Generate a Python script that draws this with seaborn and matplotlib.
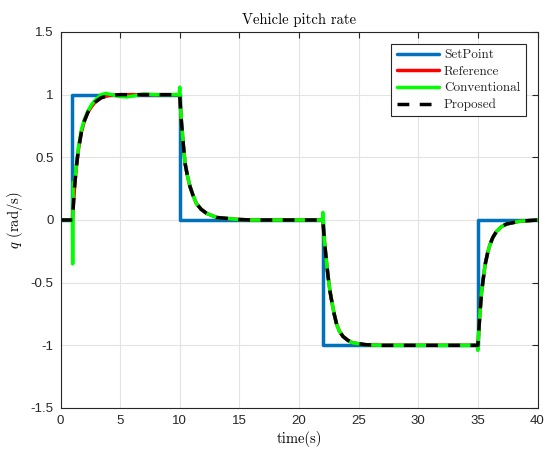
import matplotlib
matplotlib.use("Agg")
import matplotlib.pyplot as plt
import seaborn as sns

# setpoint (step changes)
t_set = [0, 1, 10, 22, 35, 40]
q_set = [0, 1, 0, -1, 0, 0]

# reference model response
t_ref = [0, 1, 1.1, 1.2, 1.35, 1.5, 1.75, 2.0, 2.3, 2.6, 2.9, 3.4, 4.0, 5.0, 10,
         10.07, 10.15, 10.3, 10.45, 10.65, 10.85, 11.1, 11.4, 11.8, 12.25, 13.1, 14.8, 16, 22,
         22.08, 22.15, 22.3, 22.45, 22.6, 22.75, 22.95, 23.15, 23.4, 23.7, 24.1, 24.5, 25.6, 27, 35,
         35.05, 35.1, 35.2, 35.3, 35.45, 35.6, 35.8, 36.0, 36.25, 36.55, 36.95, 37.4, 38.5, 40]
q_ref = [0, 0, 0.15, 0.29, 0.44, 0.56, 0.7, 0.79, 0.86, 0.905, 0.94, 0.975, 0.993, 1.0, 1.0,
         0.88, 0.77, 0.6, 0.45, 0.35, 0.27, 0.2, 0.13, 0.085, 0.053, 0.02, 0.005, 0, 0,
         -0.1, -0.186, -0.33, -0.46, -0.57, -0.65, -0.75, -0.83, -0.89, -0.93, -0.96, -0.98, -0.995, -1, -1,
         -0.93, -0.85, -0.71, -0.585, -0.47, -0.36, -0.27, -0.2, -0.14, -0.093, -0.055, -0.032, -0.01, 0]

# conventional controller: spikes at the steps and a small ripple
t_conv = [0, 1.0, 1.02, 1.06, 1.2, 1.35, 1.5, 1.75, 2.0, 2.3, 2.6, 2.9, 3.4, 3.8, 4.3, 5.0, 5.6,
          6.2, 7.0, 7.8, 9.95, 10.0, 10.07, 10.15, 10.3, 10.45, 10.65, 10.85, 11.1, 11.4, 11.8,
          12.25, 13.1, 14.8, 16, 21.97, 22.0, 22.08, 22.15, 22.3, 22.45, 22.6, 22.75, 22.95, 23.15,
          23.4, 23.7, 24.1, 24.5, 25.6, 27, 34.97, 35.0, 35.05, 35.1, 35.2, 35.3, 35.45, 35.6,
          35.8, 36.0, 36.25, 36.55, 36.95, 37.4, 38.5, 40]
q_conv = [0, 0, -0.35, 0.3, 0.31, 0.45, 0.58, 0.72, 0.8, 0.87, 0.92, 0.955, 1.0, 1.01, 1.0,
          0.985, 0.982, 0.992, 1.006, 1.0, 1.0, 1.06, 0.9, 0.77, 0.6, 0.45, 0.35, 0.27, 0.2,
          0.13, 0.085, 0.053, 0.02, 0.005, 0, 0, 0.06, -0.1, -0.186, -0.33, -0.46, -0.57, -0.65,
          -0.75, -0.83, -0.89, -0.93, -0.96, -0.98, -0.995, -1, -1, -1.04, -0.93, -0.85, -0.71,
          -0.585, -0.47, -0.36, -0.27, -0.2, -0.14, -0.093, -0.055, -0.032, -0.01, 0]

# proposed controller tracks the reference
t_prop = t_ref
q_prop = q_ref

sns.set_theme(style="white")
plt.rcParams["font.family"] = ["Liberation Sans", "DejaVu Sans"]
plt.rcParams["mathtext.fontset"] = "cm"
axc = "#262626"

fig = plt.figure(figsize=(5.46, 4.5), dpi=100)
ax = fig.add_axes([60.5 / 546, 42 / 450, 477 / 546, 376 / 450])

lw = 2.5
sns.lineplot(x=t_set, y=q_set, ax=ax, color="#0072BD", lw=lw, label="SetPoint",
             estimator=None, sort=False, drawstyle="steps-post")
sns.lineplot(x=t_ref, y=q_ref, ax=ax, color="#FF0000", lw=lw, label="Reference",
             estimator=None, sort=False)
sns.lineplot(x=t_conv, y=q_conv, ax=ax, color="#00FF00", lw=lw, label="Conventional",
             estimator=None, sort=False)
sns.lineplot(x=t_prop, y=q_prop, ax=ax, color="black", lw=lw, label="Proposed",
             estimator=None, sort=False, dashes=(3.4, 3.0))

ax.set_xlim(0, 40)
ax.set_ylim(-1.5, 1.5)
xt = [0, 5, 10, 15, 20, 25, 30, 35, 40]
yt = [-1.5, -1, -0.5, 0, 0.5, 1, 1.5]
ax.set_xticks(xt)
ax.set_xticklabels([str(v) for v in xt])
ax.set_yticks(yt)
ax.set_yticklabels(["-1.5", "-1", "-0.5", "0", "0.5", "1", "1.5"])
ax.tick_params(direction="in", length=4, width=0.8, colors=axc, labelsize=9.5,
               top=True, right=True, pad=5)
ax.grid(True, color="#e3e3e3", lw=0.8)
for s in ax.spines.values():
    s.set_color(axc)
    s.set_linewidth(0.8)

ax.set_title("Vehicle pitch rate", family="cmr10", fontsize=10.5, color="black", pad=6)
ax.set_xlabel("time(s)", family="cmr10", fontsize=10.5, color="black", labelpad=3)
ax.set_ylabel(r"$q$ (rad/s)", family="cmr10", fontsize=10.5, color="black", labelpad=4)

leg = ax.legend(loc="upper right", prop={"family": "cmr10", "size": 9.5},
                fancybox=False, framealpha=1, edgecolor=axc, handlelength=3.2,
                handletextpad=0.4, labelspacing=0.32, borderaxespad=0.9, borderpad=0.4)
leg.get_frame().set_linewidth(0.8)

fig.savefig("out.png", dpi=100)
